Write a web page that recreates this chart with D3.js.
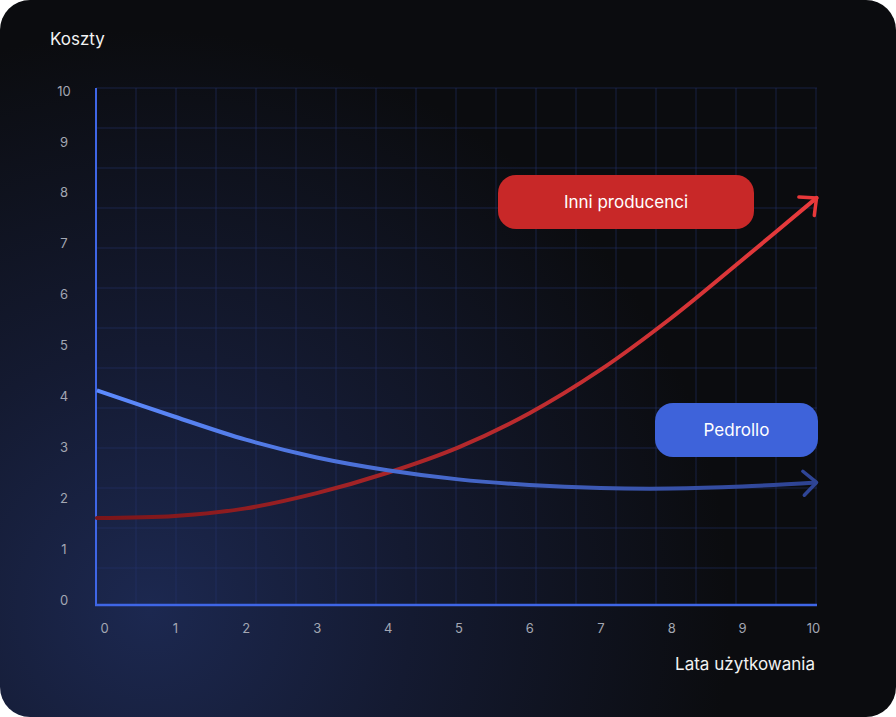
<!DOCTYPE html>
<html>
<head>
<meta charset="utf-8">
<script src="https://cdn.jsdelivr.net/npm/d3@7"></script>
<style>
  html, body { margin: 0; padding: 0; background: #ffffff; }
  svg { display: block; font-family: Inter, "Noto Sans", sans-serif; }
</style>
</head>
<body>
<svg id="chart" width="896" height="717"></svg>
<script>
// dane
const years = [-0.1, 1, 2, 3, 4, 5, 6, 7, 8, 9, 10.05];
const pedrollo = [4.12, 3.6, 3.15, 2.8, 2.55, 2.37, 2.26, 2.2, 2.19, 2.23, 2.31];
const inni = [1.61, 1.65, 1.8, 2.1, 2.5, 3.0, 3.67, 4.52, 5.54, 6.68, 7.9];
const xTicks = [0, 1, 2, 3, 4, 5, 6, 7, 8, 9, 10];
const yTicks = [0, 1, 2, 3, 4, 5, 6, 7, 8, 9, 10];

var svg = d3.select("#chart");
var width = +svg.attr("width"),
  height = +svg.attr("height");

var defs = svg.append("defs");

// tło karty
var bg = defs.append("radialGradient")
  .attr("id", "bgGrad")
  .attr("gradientUnits", "userSpaceOnUse")
  .attr("cx", 150).attr("cy", 610).attr("r", 580);
bg.append("stop").attr("offset", "0%").attr("stop-color", "#1c2850");
bg.append("stop").attr("offset", "45%").attr("stop-color", "#141a31");
bg.append("stop").attr("offset", "100%").attr("stop-color", "#0b0c0f");

svg.append("rect")
  .attr("width", width).attr("height", height)
  .attr("rx", 30).attr("ry", 30)
  .attr("fill", "url(#bgGrad)");

var plot = {left: 96, right: 817, top: 88, bottom: 605};

var x = d3.scaleLinear().domain([0, 10]).range([104, 813]);
var y = d3.scaleLinear().domain([0, 10]).range([600, 91]);

// siatka (co 40 px)
var grid = svg.append("g").attr("class", "grid");
grid.selectAll(".vline")
  .data(d3.range(plot.left + 40, plot.right + 1, 40))
  .enter().append("line")
  .attr("x1", d => d).attr("x2", d => d)
  .attr("y1", plot.top).attr("y2", plot.bottom)
  .attr("stroke", "#27356e").attr("stroke-opacity", 0.55).attr("stroke-width", 1);
grid.selectAll(".hline")
  .data(d3.range(plot.top, plot.bottom - 10, 40))
  .enter().append("line")
  .attr("x1", plot.left).attr("x2", plot.right)
  .attr("y1", d => d).attr("y2", d => d)
  .attr("stroke", "#27356e").attr("stroke-opacity", 0.55).attr("stroke-width", 1);

// osie
var yAxis = d3.axisLeft(y).tickValues(yTicks).tickSize(0).tickPadding(0);
var gy = svg.append("g").attr("transform", "translate(64,0)").call(yAxis);
gy.select(".domain").remove();
gy.selectAll("text")
  .attr("text-anchor", "middle")
  .attr("fill", "#a3a7b3")
  .style("font-size", "13px")
  .style("font-family", "Inter, sans-serif");

var xAxis = d3.axisBottom(x).tickValues(xTicks).tickSize(0).tickPadding(0);
var gx = svg.append("g").attr("transform", "translate(0,624)").call(xAxis);
gx.select(".domain").remove();
gx.selectAll("text")
  .attr("fill", "#a3a7b3")
  .style("font-size", "13px")
  .style("font-family", "Inter, sans-serif");

svg.append("line")
  .attr("x1", plot.left).attr("x2", plot.left)
  .attr("y1", plot.top).attr("y2", plot.bottom + 1)
  .attr("stroke", "#3f66e6").attr("stroke-width", 2);
svg.append("line")
  .attr("x1", plot.left - 1).attr("x2", plot.right)
  .attr("y1", plot.bottom).attr("y2", plot.bottom)
  .attr("stroke", "#3f66e6").attr("stroke-width", 2.5);

// gradienty linii
function lineGrad(id, c0, c1) {
  var g = defs.append("linearGradient")
    .attr("id", id)
    .attr("gradientUnits", "userSpaceOnUse")
    .attr("x1", plot.left).attr("x2", plot.right).attr("y1", 0).attr("y2", 0);
  g.append("stop").attr("offset", "0%").attr("stop-color", c0);
  g.append("stop").attr("offset", "100%").attr("stop-color", c1);
}
lineGrad("redGrad", "#7a1519", "#ea3b3d");
lineGrad("blueGrad", "#5d8bff", "#2d4292");

function arrowMarker(id, color) {
  defs.append("marker")
    .attr("id", id)
    .attr("viewBox", "-16 -16 32 32")
    .attr("markerWidth", 32).attr("markerHeight", 32)
    .attr("markerUnits", "userSpaceOnUse")
    .attr("refX", 0).attr("refY", 0)
    .attr("orient", "auto")
    .append("path")
    .attr("d", "M-13,-12 L0,0 L-13,12")
    .attr("fill", "none")
    .attr("stroke", color)
    .attr("stroke-width", 3.5)
    .attr("stroke-linecap", "round")
    .attr("stroke-linejoin", "round");
}
arrowMarker("redArrow", "#e8383a");
arrowMarker("blueArrow", "#2f4596");

var line = d3.line()
  .x(d => x(d[0]))
  .y(d => y(d[1]))
  .curve(d3.curveCatmullRom.alpha(0.5));

svg.append("path")
  .datum(years.map((v, i) => [v, inni[i]]))
  .attr("d", line)
  .attr("fill", "none")
  .attr("stroke", "url(#redGrad)")
  .attr("stroke-width", 4)
  .attr("stroke-linecap", "round")
  .attr("marker-end", "url(#redArrow)");

svg.append("path")
  .datum(years.map((v, i) => [v, pedrollo[i]]))
  .attr("d", line)
  .attr("fill", "none")
  .attr("stroke", "url(#blueGrad)")
  .attr("stroke-width", 4)
  .attr("stroke-linecap", "butt")
  .attr("marker-end", "url(#blueArrow)");

// etykiety serii
function badge(x0, y0, w, h, fill, label) {
  var g = svg.append("g").attr("transform", `translate(${x0},${y0})`);
  g.append("rect")
    .attr("width", w).attr("height", h)
    .attr("rx", 18).attr("ry", 18)
    .attr("fill", fill);
  g.append("text")
    .attr("x", w / 2).attr("y", h / 2)
    .attr("dy", ".35em")
    .attr("text-anchor", "middle")
    .attr("fill", "#ffffff")
    .style("font-size", "17px")
    .text(label);
}
badge(498, 175, 256, 54, "#c82828", "Inni producenci");
badge(655, 403, 163, 54, "#3e63da", "Pedrollo");

// tytuły osi
svg.append("text")
  .attr("x", 50).attr("y", 45)
  .attr("fill", "#f2f2f2")
  .style("font-size", "17px")
  .text("Koszty");

svg.append("text")
  .attr("x", 815).attr("y", 670)
  .attr("text-anchor", "end")
  .attr("fill", "#f2f2f2")
  .style("font-size", "17px")
  .text("Lata użytkowania");
</script>
</body>
</html>
